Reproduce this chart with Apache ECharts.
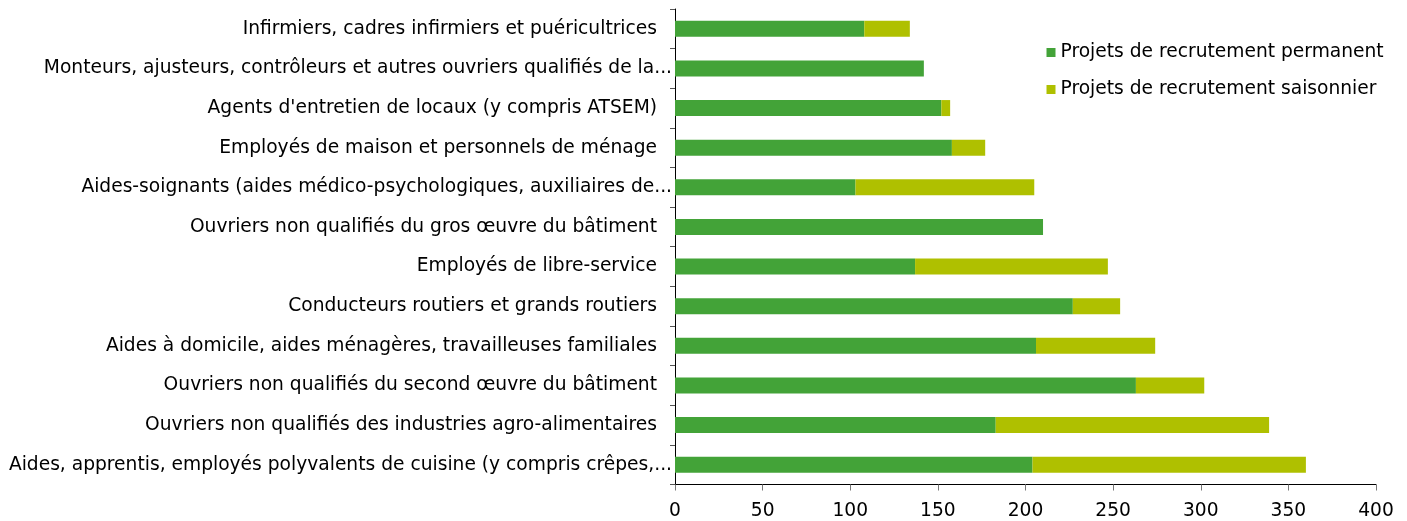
<!DOCTYPE html>
<html>
<head>
<meta charset="utf-8">
<script src="https://cdn.jsdelivr.net/npm/echarts@6/dist/echarts.min.js"></script>
<style>
  html, body { margin: 0; padding: 0; background: #fff; }
  #chart { width: 1407px; height: 521px; }
</style>
</head>
<body>
<div id="chart"></div>
<script>
// métiers, du haut vers le bas
const metiers = [
  "Infirmiers, cadres infirmiers et puéricultrices",
  "Monteurs, ajusteurs, contrôleurs et autres ouvriers qualifiés de la...",
  "Agents d'entretien de locaux (y compris ATSEM)",
  "Employés de maison et personnels de ménage",
  "Aides-soignants (aides médico-psychologiques, auxiliaires de...",
  "Ouvriers non qualifiés du gros œuvre du bâtiment",
  "Employés de libre-service",
  "Conducteurs routiers et grands routiers",
  "Aides à domicile, aides ménagères, travailleuses familiales",
  "Ouvriers non qualifiés du second œuvre du bâtiment",
  "Ouvriers non qualifiés des industries agro-alimentaires",
  "Aides, apprentis, employés polyvalents de cuisine (y compris crêpes,..."
];
const permanent = [108, 142, 152, 158, 103, 210, 137, 227, 206, 263, 183, 204];
const saisonnier = [26, 0, 5, 19, 102, 0, 110, 27, 68, 39, 156, 156];
const xTicks = [0, 50, 100, 150, 200, 250, 300, 350, 400];

const font = "'DejaVu Sans', Verdana, sans-serif";

const chart = echarts.init(document.getElementById('chart'));
chart.setOption({
  animation: false,
  textStyle: { fontFamily: font, fontSize: 18.67, color: '#000' },
  grid: { left: 675, right: 31, top: 9, bottom: 36.5 },
  legend: {
    orient: 'vertical',
    left: 1041.5,
    top: 38,
    itemWidth: 9,
    itemHeight: 9,
    itemGap: 18,
    icon: 'rect',
    textStyle: { fontFamily: font, fontSize: 18.67, color: '#000', lineHeight: 19 },
    data: ['Projets de recrutement permanent', 'Projets de recrutement saisonnier']
  },
  xAxis: {
    type: 'value',
    min: xTicks[0],
    max: xTicks[xTicks.length - 1],
    interval: 50,
    splitLine: { show: false },
    axisLine: { show: true, lineStyle: { color: '#000', width: 1 } },
    axisTick: { show: true, length: 6, lineStyle: { color: '#777' } },
    axisLabel: { margin: 17, color: '#000', fontFamily: font, fontSize: 18.67 }
  },
  yAxis: {
    type: 'category',
    inverse: true,
    data: metiers,
    axisLine: { show: true, lineStyle: { color: '#000', width: 1 } },
    axisTick: { show: true, length: 5, lineStyle: { color: '#555' } },
    axisLabel: {
      margin: 3,
      color: '#000',
      fontFamily: font,
      fontSize: 18.67,
      formatter: function (v) {
        return v.endsWith('...') ? '{t|' + v + '}' : '{f|' + v + '}';
      },
      rich: {
        t: { fontFamily: font, fontSize: 18.67, color: '#000' },
        f: { fontFamily: font, fontSize: 18.67, color: '#000', padding: [0, 15, 0, 0] }
      }
    }
  },
  series: [
    {
      name: 'Projets de recrutement permanent',
      type: 'bar',
      stack: 'total',
      barWidth: 16,
      itemStyle: { color: '#43a338' },
      data: permanent
    },
    {
      name: 'Projets de recrutement saisonnier',
      type: 'bar',
      stack: 'total',
      barWidth: 16,
      itemStyle: { color: '#afc000' },
      data: saisonnier
    }
  ]
});
</script>
</body>
</html>
